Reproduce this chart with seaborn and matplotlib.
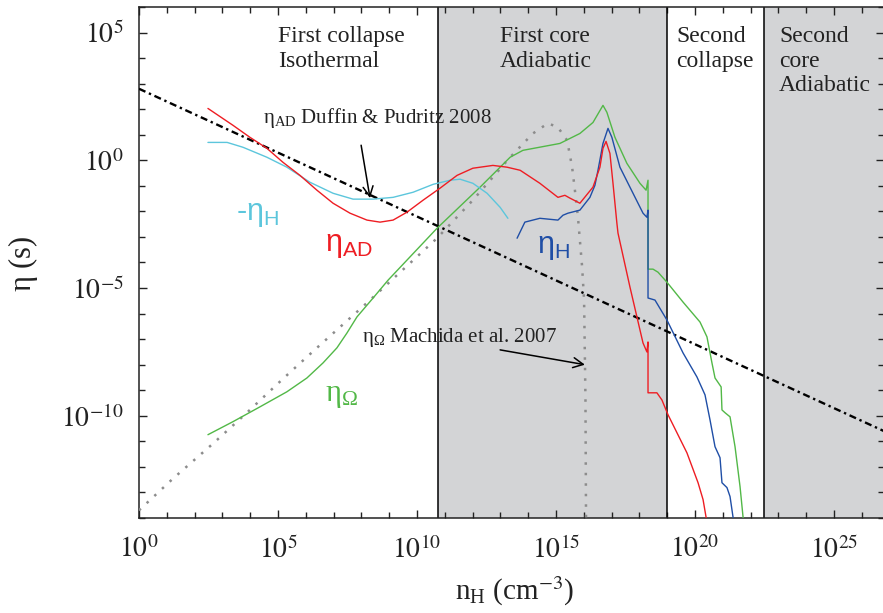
import matplotlib
matplotlib.use("Agg")
import matplotlib.pyplot as plt
from matplotlib.transforms import blended_transform_factory
import numpy as np
import pandas as pd
import seaborn as sns

# log10 of hydrogen density n_H (cm^-3) and log10 of resistivity eta (s)
log_n_ohm = [2.48, 3.38, 4.35, 5.32, 6.04, 6.62, 7.12, 7.48, 7.84, 8.42, 8.96, 10.72, 12.27,
             13.35, 13.81, 15.14, 15.86, 16.33, 16.69, 16.83, 17.12, 17.55, 18.02, 18.24,
             18.31, 18.31, 18.49, 18.67, 18.99, 19.57, 20.18, 20.43, 20.61, 20.72, 20.94,
             20.97, 21.08, 21.26, 21.44, 21.62, 21.73]
log_eta_ohm = [-10.74, -10.23, -9.65, -9.06, -8.52, -7.93, -7.34, -6.76, -6.13, -5.39, -4.69,
               -2.66, -1.05, 0.12, 0.39, 0.66, 1.05, 1.48, 2.15, 1.88, 0.90, -0.12, -0.90,
               -1.17, -0.78, -4.26, -4.26, -4.38, -4.77, -5.55, -6.33, -6.91, -7.93, -8.52,
               -8.87, -9.77, -9.88, -10.04, -11.21, -12.77, -13.98]

log_n_ad = [2.48, 3.38, 3.99, 4.60, 5.18, 5.79, 6.40, 6.98, 7.59, 8.20, 8.67, 9.14, 9.64,
            10.22, 10.83, 11.44, 12.01, 12.73, 13.24, 13.71, 14.42, 15.07, 15.32, 15.50, 15.86,
            16.33, 16.58, 16.69, 16.80, 16.94, 17.05, 17.19, 17.23, 17.66, 18.13, 18.27, 18.31,
            18.31, 18.63, 18.81, 19.03, 19.71, 20.11, 20.29, 20.40]
log_eta_ad = [2.03, 1.37, 0.90, 0.47, -0.08, -0.59, -1.17, -1.68, -2.07, -2.34, -2.42, -2.34,
              -2.03, -1.56, -1.09, -0.59, -0.31, -0.20, -0.27, -0.39, -0.90, -1.45, -1.37,
              -1.48, -1.68, -1.05, -0.27, 0.47, 0.74, 0.27, -0.90, -2.46, -2.85, -4.96, -7.15,
              -7.50, -7.11, -9.10, -9.10, -9.38, -9.96, -11.45, -12.62, -13.28, -13.98]

# negative Hall resistivity (low densities)
log_n_hall_neg = [2.48, 3.17, 3.74, 4.60, 5.32, 6.15, 6.98, 7.70, 8.42, 9.14, 9.86, 10.58,
                  11.19, 11.55, 12.01, 12.52, 12.99, 13.27]
log_eta_hall_neg = [0.70, 0.70, 0.51, 0.12, -0.27, -0.86, -1.29, -1.52, -1.52, -1.45, -1.25,
                    -0.94, -0.78, -0.74, -0.90, -1.29, -1.84, -2.27]

# positive Hall resistivity (high densities)
log_n_hall = [13.60, 13.88, 14.42, 15.07, 15.25, 15.43, 15.86, 16.22, 16.40, 16.51, 16.69,
              16.87, 17.01, 17.30, 17.77, 18.13, 18.27, 18.31, 18.31, 18.56, 18.99, 19.57,
              20.07, 20.36, 20.54, 20.72, 20.90, 20.97, 21.15, 21.26, 21.37]
log_eta_hall = [-3.05, -2.42, -2.27, -2.34, -2.15, -2.07, -1.95, -1.45, -0.98, -0.39, 0.66,
                1.25, 0.90, -0.27, -1.29, -2.07, -2.23, -1.95, -5.39, -5.47, -6.25, -7.54,
                -8.48, -9.18, -10.16, -11.21, -11.64, -12.62, -12.81, -13.16, -13.98]

# Machida et al. 2007 Ohmic resistivity
log_n_machida = [0.00, 1.22, 2.66, 3.88, 5.18, 6.40, 8.20, 10.72, 12.01, 13.35, 14.17, 14.71,
                 15.07, 15.40, 15.58, 15.68, 15.79, 15.94, 16.01, 16.06, 16.08]
log_eta_machida = [-13.70, -12.46, -11.09, -9.88, -8.55, -7.34, -5.58, -3.05, -1.56, 0.12,
                   1.05, 1.45, 1.29, 0.78, -0.27, -1.17, -2.23, -4.18, -5.47, -9.38, -14.00]

# Duffin & Pudritz 2008 ambipolar resistivity (power law)
log_n_duffin = [0.0, 27.0]
log_eta_duffin = [2.80, -10.70]

# boundaries of the evolutionary phases (log10 n_H)
log_n_phase = [10.77, 19.0, 22.48]

x_major = [0, 5, 10, 15, 20, 25]
y_major = [-10, -5, 0, 5]

sns.set_style("ticks")
plt.rcParams["font.family"] = ["Liberation Serif", "DejaVu Serif"]
plt.rcParams["mathtext.fontset"] = "stix"

fig = plt.figure(figsize=(8.83, 6.13), dpi=100)
ax = fig.add_axes([139 / 883, 95 / 613, 745 / 883, 511 / 613])
ax.set_xscale("log")
ax.set_yscale("log")
x_max = 10 ** (745 / 27.8)
ax.set_xlim(1, x_max)
ax.set_ylim(1e-14, 1e6)

shade = "#d3d4d6"
ax.axvspan(10 ** log_n_phase[0], 10 ** log_n_phase[1], color=shade, lw=0, zorder=0)
ax.axvspan(10 ** log_n_phase[2], x_max, color=shade, lw=0, zorder=0)
for v in log_n_phase:
    ax.axvline(10 ** v, color="black", lw=1.1, zorder=1)


def curve(lx, ly):
    return pd.DataFrame({"n": np.power(10.0, lx), "eta": np.power(10.0, ly)})


sns.lineplot(data=curve(log_n_duffin, log_eta_duffin), x="n", y="eta", sort=False,
             estimator=None, color="black", lw=1.7, linestyle=(0, (3.0, 1.6, 1.0, 1.6)),
             ax=ax, zorder=3)
sns.lineplot(data=curve(log_n_machida, log_eta_machida), x="n", y="eta", sort=False,
             estimator=None, color="#8c8c8c", lw=1.8, linestyle=(0, (1.0, 3.2)), ax=ax,
             zorder=3)
sns.lineplot(data=curve(log_n_ohm, log_eta_ohm), x="n", y="eta", sort=False,
             estimator=None, color="#52b847", lw=1.0, ax=ax, zorder=4)
sns.lineplot(data=curve(log_n_hall_neg, log_eta_hall_neg), x="n", y="eta", sort=False,
             estimator=None, color="#5cc6dc", lw=1.0, ax=ax, zorder=4)
sns.lineplot(data=curve(log_n_hall, log_eta_hall), x="n", y="eta", sort=False,
             estimator=None, color="#1f4ea6", lw=1.0, ax=ax, zorder=4)
sns.lineplot(data=curve(log_n_ad, log_eta_ad), x="n", y="eta", sort=False,
             estimator=None, color="#ee1d23", lw=1.0, ax=ax, zorder=5)

# axes, ticks and labels
ax.set_xticks([10.0 ** e for e in x_major])
ax.set_xticklabels([r"$10^{%d}$" % e for e in x_major])
ax.set_xticks([10.0 ** e for e in range(0, 27)], minor=True)
ax.set_yticks([10.0 ** e for e in y_major])
ax.set_yticklabels([r"$10^{%d}$" % e for e in y_major])
ax.set_yticks([10.0 ** e for e in range(-14, 7)], minor=True)
ax.xaxis.set_minor_formatter(plt.NullFormatter())
ax.yaxis.set_minor_formatter(plt.NullFormatter())
ax.tick_params(which="both", direction="in", top=True, right=True, width=1.0,
               colors="#222222", labelcolor="#222222")
ax.tick_params(which="major", length=6, labelsize=20)
ax.tick_params(axis="y", which="major", pad=11)
ax.tick_params(axis="x", which="major", pad=13)
ax.tick_params(which="minor", length=4)
for s in ax.spines.values():
    s.set_linewidth(1.1)
    s.set_color("#222222")

ax.set_xlabel(r"$\mathregular{n_H}$ (cm$^{-3}$)", fontsize=21, color="#222222")
ax.set_ylabel(r"$\mathregular{\eta}$ (s)", fontsize=22, color="#222222")
ax.xaxis.set_label_coords(0.504, -0.11)
ax.yaxis.set_label_coords(-0.133, 0.497)

# phase labels
top = blended_transform_factory(ax.transData, ax.transAxes)
phase_kw = dict(transform=top, fontsize=17, va="top", ha="left", linespacing=1.2,
                color="#222222")
ax.text(10 ** 5.0, 0.962, "First collapse\nIsothermal", **phase_kw)
ax.text(10 ** 12.99, 0.962, "First core\nAdiabatic", **phase_kw)
ax.text(10 ** 19.32, 0.962, "Second\ncollapse", **phase_kw)
ax.text(10 ** 23.02, 0.962, "Second\ncore\nAdiabatic", **phase_kw)

# curve labels
ax.text(10 ** 3.5, 10 ** -2.1, r"-$\mathregular{\eta_H}$", color="#5cc6dc", fontsize=22,
        family="Liberation Sans", va="center", ha="left")
ax.text(10 ** 6.69, 10 ** -3.3, r"$\mathregular{\eta_{AD}}$", color="#ee1d23", fontsize=22,
        family="Liberation Sans", va="center", ha="left")
ax.text(10 ** 14.32, 10 ** -3.4, r"$\mathregular{\eta_H}$", color="#1f4ea6", fontsize=22,
        family="Liberation Sans", va="center", ha="left")
ax.text(10 ** 6.69, 10 ** -9.2, r"$\mathregular{\eta_\Omega}$", color="#52b847", fontsize=22,
        va="center", ha="left")

# literature references
ax.text(10 ** 4.46, 10 ** 1.64, r"$\mathregular{\eta_{AD}}$ Duffin & Pudritz 2008",
        fontsize=15, va="center", ha="left", color="#222222")
ax.annotate("", xy=(10 ** 8.31, 10 ** -1.48), xytext=(10 ** 7.99, 10 ** 0.59),
            arrowprops=dict(arrowstyle="->", lw=1.1, color="black", mutation_scale=18,
                            shrinkA=0, shrinkB=0))
ax.text(10 ** 8.02, 10 ** -6.95, r"$\mathregular{\eta_\Omega}$ Machida et al. 2007",
        fontsize=15, va="center", ha="left", color="#222222")
ax.annotate("", xy=(10 ** 16.04, 10 ** -8.0), xytext=(10 ** 12.99, 10 ** -7.42),
            arrowprops=dict(arrowstyle="->", lw=1.1, color="black", mutation_scale=18,
                            shrinkA=0, shrinkB=0))

fig.savefig("out.png", dpi=100)
